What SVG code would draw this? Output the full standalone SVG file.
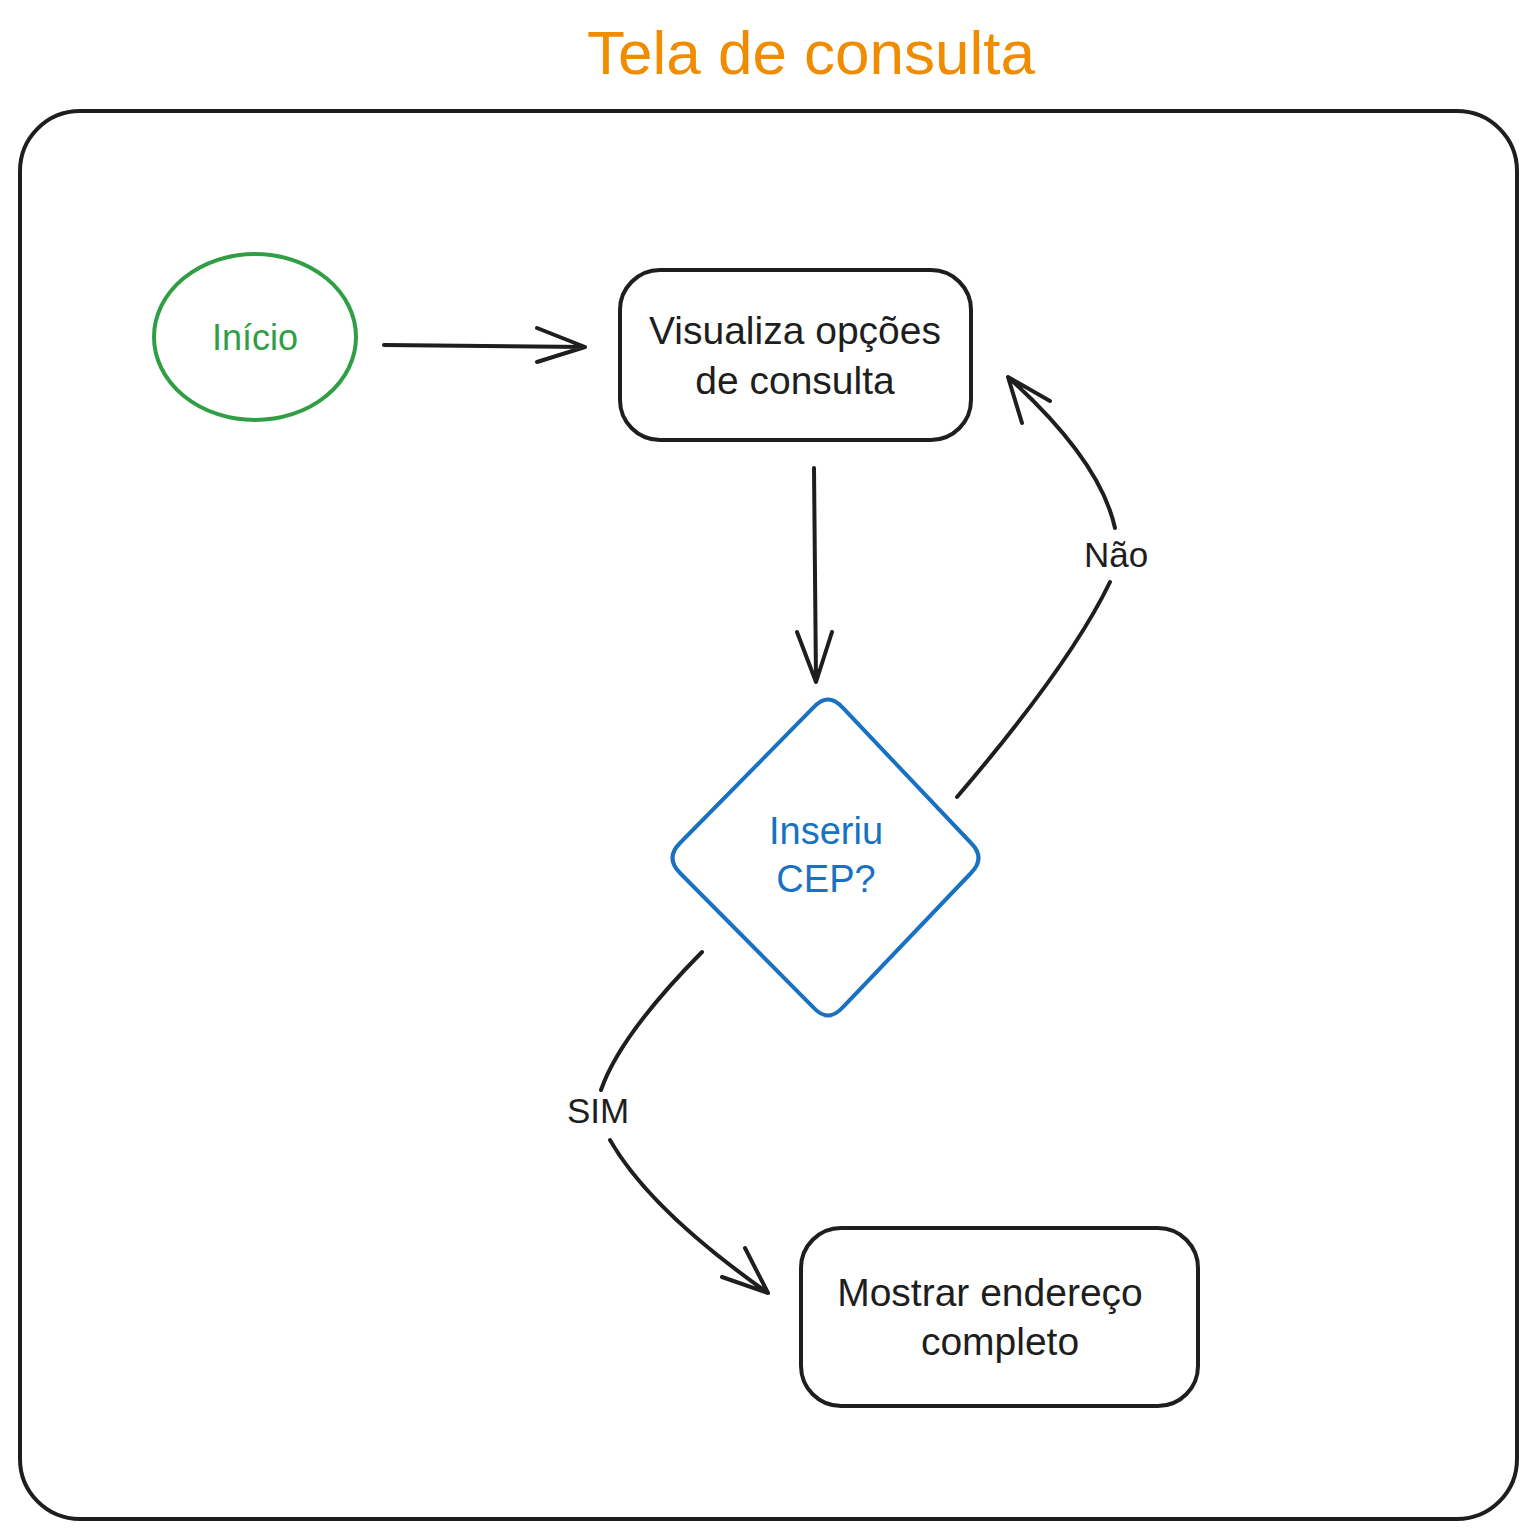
<svg xmlns="http://www.w3.org/2000/svg" width="1536" height="1538" viewBox="0 0 1536 1538">
<style>
.t{font-family:"Liberation Sans","DejaVu Sans",sans-serif;text-anchor:middle;dominant-baseline:central}
.ln{fill:none;stroke:#1e1e1e;stroke-width:4;stroke-linecap:round;stroke-linejoin:round}
</style>
<rect width="1536" height="1538" fill="#ffffff"/>
<text class="t" x="811" y="52" font-size="62" fill="#f08c00">Tela de consulta</text>
<g id="frame"><rect x="20" y="111" width="1497" height="1408" rx="60" fill="none" stroke="#1e1e1e" stroke-width="4"/></g>
<g id="inicio">
<ellipse cx="255" cy="337" rx="101" ry="83" fill="none" stroke="#2f9e44" stroke-width="4"/>
<text class="t" x="255" y="337" font-size="36" fill="#2f9e44">Início</text>
</g>
<g id="visualiza">
<rect x="620" y="270" width="351" height="170" rx="40" fill="none" stroke="#1e1e1e" stroke-width="4"/>
<text class="t" x="795" y="330" font-size="39" fill="#1e1e1e">Visualiza opções</text>
<text class="t" x="795" y="380" font-size="39" fill="#1e1e1e">de consulta</text>
</g>
<g id="inseriu">
<path d="M813,708 Q828,691 843,708 L971,843 Q986,858 971,873 L843,1007 Q828,1024 813,1007 L680,873 Q665,858 680,843 Z" fill="none" stroke="#1971c2" stroke-width="4"/>
<text class="t" x="826" y="831" font-size="38" fill="#1971c2">Inseriu</text>
<text class="t" x="826" y="879" font-size="38" fill="#1971c2">CEP?</text>
</g>
<g id="mostrar">
<rect x="801" y="1228" width="397" height="178" rx="40" fill="none" stroke="#1e1e1e" stroke-width="4"/>
<text class="t" x="990" y="1292" font-size="39" fill="#1e1e1e">Mostrar endereço</text>
<text class="t" x="1000" y="1341" font-size="39" fill="#1e1e1e">completo</text>
</g>
<g id="connectors">
<path class="ln" d="M384,345 L585,347 M537,328 L585,347 L537,362"/>
<path class="ln" d="M814,468 L816,682 M797,632 L816,682 L832,632"/>
<path class="ln" d="M957,797 Q1070,665 1110,582 M1115,528 Q1100,460 1008,377 M1022,423 L1008,377 L1050,401"/>
<text class="t" x="1116" y="554" font-size="35" fill="#1e1e1e">Não</text>
<path class="ln" d="M702,952 Q620,1035 601,1090 M610,1140 Q650,1210 768,1293 M722,1277 L768,1293 L745,1248"/>
<text class="t" x="598" y="1110" font-size="35" fill="#1e1e1e">SIM</text>
</g>
</svg>
